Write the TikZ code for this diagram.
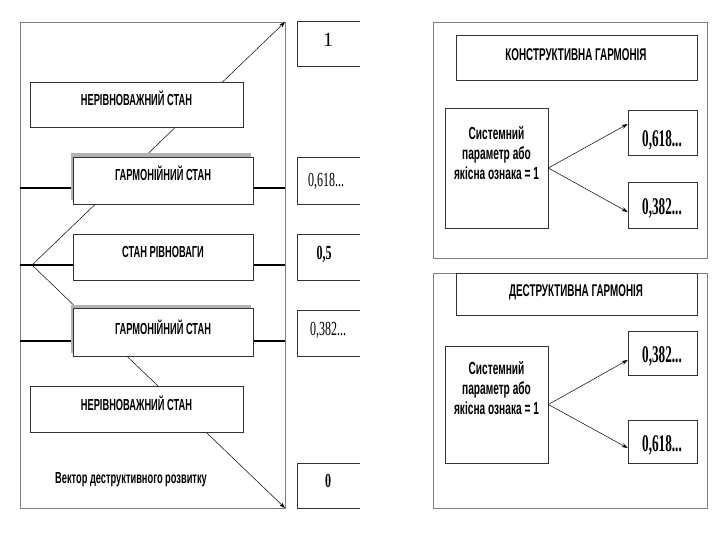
\documentclass[tikz,border=0pt]{standalone}
\usepackage{fontspec}
\newfontfamily\lbl[FakeStretch=0.58]{Liberation Sans}
\newfontfamily\numf[FakeStretch=0.55]{Liberation Serif}
\newfontfamily\numl[FakeStretch=0.6]{Liberation Serif}
\newfontfamily\numone{Liberation Serif}
\usetikzlibrary{arrows.meta}
\begin{document}
\begin{tikzpicture}[x=1pt,y=-1pt,
  frame/.style={draw=black!50, line width=0.6pt},
  box/.style={draw=black!80, fill=white, line width=0.6pt, inner sep=0pt},
  shade/.style={fill=black!30, draw=none, inner sep=0pt},
  lab/.style={font=\lbl\bfseries\fontsize{16}{20}\selectfont, inner sep=0pt, align=center},
  tlab/.style={font=\lbl\bfseries\fontsize{17}{20}\selectfont, inner sep=0pt, align=center},
  slab/.style={font=\lbl\bfseries\fontsize{17.5}{20}\selectfont, inner sep=0pt, align=center},
  numL/.style={font=\numl\fontsize{20}{22}\selectfont, inner sep=0pt},
  numLb/.style={font=\numl\bfseries\fontsize{20}{22}\selectfont, inner sep=0pt},
  numR/.style={font=\numf\bfseries\fontsize{24}{26}\selectfont, inner sep=0pt},
  thickline/.style={line width=2pt, black},
  arr/.style={line width=0.5pt, -{Stealth[length=6pt,width=4pt]}},
  open/.style={inner sep=0pt}
]
\useasboundingbox (0,0) rectangle (720,540);
\fill[white] (0,0) rectangle (720,540);

% ---------- left panel ----------
\draw[frame] (20,22) rectangle (285,508);
\coordinate (v) at (32,265);
\coordinate (tr) at (285,22);
\coordinate (br) at (285,508);
\coordinate (l1) at (20,188);  \coordinate (r1) at (285,188);
\coordinate (l2) at (20,265);  \coordinate (r2) at (285,265);
\coordinate (l3) at (20,341);  \coordinate (r3) at (285,341);
\draw[thickline] (l1) -- (r1);
\draw[thickline] (l2) -- (r2);
\draw[thickline] (l3) -- (r3);
\draw[arr] (v) -- (tr);
\draw[arr] (v) -- (br);

\node[box, minimum width=213pt, minimum height=45pt] (n1) at (136.5,104.5) {};
\node[lab] (n1t) at (136.5,98) {НЕРІВНОВАЖНИЙ СТАН};

\node[shade, minimum width=180pt, minimum height=47pt] (g1s) at (161,177) {};
\node[box, minimum width=180pt, minimum height=47pt] (g1) at (163,180.5) {};
\node[lab] (g1t) at (163,173) {ГАРМОНІЙНИЙ СТАН};

\node[box, minimum width=180pt, minimum height=46pt] (r) at (163,257) {};
\node[lab] (rt) at (163,252) {СТАН РІВНОВАГИ};

\node[shade, minimum width=180pt, minimum height=48pt] (g2s) at (161,328.5) {};
\node[box, minimum width=180pt, minimum height=48pt] (g2) at (163,332) {};
\node[lab] (g2t) at (163,327) {ГАРМОНІЙНИЙ СТАН};

\node[box, minimum width=213pt, minimum height=46pt] (n2) at (136.5,409) {};
\node[lab] (n2t) at (136.5,403) {НЕРІВНОВАЖНИЙ СТАН};

\node[lab] (vec) at (131,480) {Вектор деструктивного розвитку};

% number boxes (open on the right)
\node[open, minimum width=63pt, minimum height=44pt] (b1) at (328.5,44) {};
\node[open, minimum width=63pt, minimum height=46pt] (b2) at (328.5,181) {};
\node[open, minimum width=63pt, minimum height=46pt] (b3) at (328.5,257) {};
\node[open, minimum width=63pt, minimum height=46pt] (b4) at (328.5,333) {};
\node[open, minimum width=63pt, minimum height=45pt] (b5) at (328.5,485.5) {};
\foreach \b in {b1,b2,b3,b4,b5}{
  \draw[draw=black!80, line width=0.6pt] (\b.north east) -- (\b.north west) -- (\b.south west) -- (\b.south east);
}
\node[font=\numone\fontsize{20}{22}\selectfont, inner sep=0pt] (t1) at (328,40) {1};
\node[numL] (t2) at (326,181) {0,618...};
\node[numLb] (t3) at (324,254) {0,5};
\node[numL] (t4) at (328,330) {0,382...};
\node[numLb] (t5) at (328,481) {0};

% ---------- right top panel ----------
\draw[frame] (433,22) rectangle (707,258);
\node[box, minimum width=241pt, minimum height=45pt] (k) at (576.5,57.5) {};
\node[tlab] (kt) at (576,55) {КОНСТРУКТИВНА ГАРМОНІЯ};
\node[box, minimum width=103pt, minimum height=120pt] (s1) at (496.5,168) {};
\node[slab] (s1t) at (496.5,153) {Системний\\параметр або\\якісна ознака = 1};
\node[box, minimum width=69pt, minimum height=45pt] (a1) at (662.5,132.5) {};
\node[numR] (a1t) at (662,140) {0,618...};
\node[box, minimum width=69pt, minimum height=46pt] (a2) at (662.5,205) {};
\node[numR] (a2t) at (662,208) {0,382...};
\draw[arr] (s1.east) -- ([yshift=8.5pt]a1.west);
\draw[arr] (s1.east) -- ([yshift=-7pt]a2.west);

% ---------- right bottom panel ----------
\draw[frame] (433,273) rectangle (707,508);
\node[box, minimum width=241pt, minimum height=42pt] (d) at (576.5,294) {};
\node[tlab] (dt) at (576,292) {ДЕСТРУКТИВНА ГАРМОНІЯ};
\node[box, minimum width=103pt, minimum height=117pt] (s2) at (496.5,404.5) {};
\node[slab] (s2t) at (496.5,388) {Системний\\параметр або\\якісна ознака = 1};
\node[box, minimum width=69pt, minimum height=44pt] (c1) at (662.5,353) {};
\node[numR] (c1t) at (662,356) {0,382...};
\node[box, minimum width=69pt, minimum height=43pt] (c2) at (662.5,441.5) {};
\node[numR] (c2t) at (662,445) {0,618...};
\draw[arr] (s2.east) -- ([yshift=-7pt]c1.west);
\draw[arr] (s2.east) -- ([yshift=-6.5pt]c2.west);
\end{tikzpicture}
\end{document}
